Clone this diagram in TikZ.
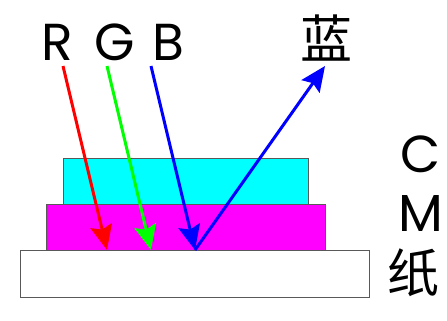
\documentclass[tikz,border=0pt]{standalone}
\usepackage{fontspec}
\setmainfont{Poppins}
\newfontfamily\cjkfont{Noto Sans CJK SC}
\usetikzlibrary{arrows.meta}

\definecolor{layerCyan}{RGB}{0,255,255}
\definecolor{layerMagenta}{RGB}{255,0,255}
\definecolor{rayRed}{RGB}{255,0,0}
\definecolor{rayGreen}{RGB}{0,255,0}
\definecolor{rayBlue}{RGB}{0,0,255}

\begin{document}
\begin{tikzpicture}[
    x=1pt, y=-1pt,
    % --- Styles ---
    layer box/.style={draw=gray!70!black, line width=0.8pt},
    % Thick coloured rays with big filled heads
    ray line/.style={line width=3pt, -{Stealth[length=25pt, width=22pt, inset=4pt]}},
    letter node/.style={font=\fontsize{52}{52}\selectfont, anchor=base, inner sep=0pt},
    side node/.style={font=\fontsize{52}{52}\selectfont, anchor=base, inner sep=0pt},
    cjk node/.style={font=\cjkfont\fontsize{52}{52}\selectfont, anchor=center, inner sep=0pt}
]

%================CONFIGURATION================
% \ytop: top end of the rays
% \yhit: where the rays meet the paper
% \dx: horizontal run of each incoming ray
\def\ytop{66}
\def\yhit{250}
\def\dx{44}
%=============================================

\useasboundingbox (0,0) rectangle (447,321);

% --- 1. Layers ---
\draw[layer box, fill=white]        (20,250) rectangle (369,297);
\draw[layer box, fill=layerMagenta] (46,204) rectangle (325,250);
\draw[layer box, fill=layerCyan]    (63,158) rectangle (308,204);

% --- 2. Incoming rays with their labels ---
\foreach \name/\col/\x/\xl in {R/rayRed/63/57, G/rayGreen/107/115, B/rayBlue/151/168} {
    \pgfmathsetmacro{\xHit}{\x + \dx}
    \coordinate (top\name) at (\x, \ytop);
    \coordinate (hit\name) at (\xHit, \yhit);
    \node[letter node] (label\name) at (\xl, 60) {\name};
    \draw[ray line, draw=\col, fill=\col] (top\name) -- (hit\name);
}

% --- 3. Reflected blue ray ---
\coordinate (outB) at (325, \ytop);
\node[cjk node] (labelBlue) at (326, 38) {蓝};
\draw[ray line, draw=rayBlue, fill=rayBlue] (hitB) -- (outB);

% --- 4. Side labels ---
\node[side node] (labelC)     at (421, 172) {C};
\node[side node] (labelM)     at (421, 231) {M};
\node[cjk node]  (labelPaper) at (413, 273) {纸};

\end{tikzpicture}
\end{document}
